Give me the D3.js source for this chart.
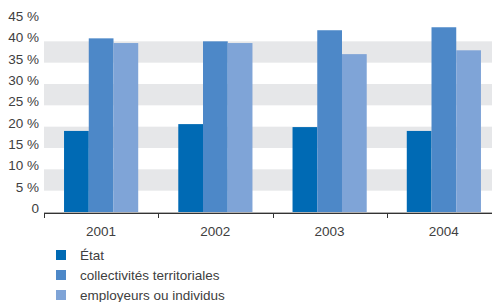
<!DOCTYPE html>
<html>
<head>
<meta charset="utf-8">
<script src="https://cdn.jsdelivr.net/npm/d3@7"></script>
<style>
  body { margin: 0; background: #fff; }
  svg text { font-family: "Liberation Sans Narrow", "Arial Narrow", "Liberation Sans", sans-serif; fill: #404040; }
</style>
</head>
<body>
<svg id="chart" width="492" height="302"></svg>
<script>
// Data
const years = ["2001", "2002", "2003", "2004"];
const seriesNames = ["État", "collectivités territoriales", "employeurs ou individus"];
const etat = [19.0, 20.6, 19.9, 19.0];
const collectivites = [40.7, 40.0, 42.6, 43.3];
const employeurs = [39.6, 39.6, 37.0, 37.9];
const yTicks = [0, 5, 10, 15, 20, 25, 30, 35, 40, 45];
const bands = [[5, 10], [15, 20], [25, 30], [35, 40]];

const colors = ["#006ab4", "#4d88c8", "#7fa4d7"];
const seriesValues = [etat, collectivites, employeurs];

const svg = d3.select("#chart");
const plotLeft = 44, plotRight = 501, plotTop = 20, plotBottom = 212;

const x = d3.scaleBand().domain(years).range([plotLeft, plotRight]).paddingInner(0).paddingOuter(0);
const x1 = d3.scaleBand().domain(d3.range(seriesNames.length)).range([0, x.bandwidth()])
  .paddingInner(0).paddingOuter(0.81);
const y = d3.scaleLinear().domain([0, 45]).range([plotBottom, plotTop]);

// Grey bands
svg.append("g").selectAll("rect")
  .data(bands)
  .join("rect")
  .attr("x", plotLeft)
  .attr("width", 492 - plotLeft)
  .attr("y", d => y(d[1]))
  .attr("height", d => y(d[0]) - y(d[1]))
  .attr("fill", "#e6e7e9");

// Y labels
svg.append("g").selectAll("text")
  .data(yTicks)
  .join("text")
  .attr("x", 39)
  .attr("y", d => y(d) + 1)
  .attr("text-anchor", "end")
  .style("font-size", "13.5px")
  .text(d => d === 0 ? "0" : d + " %");

// Bars
const groups = svg.append("g").selectAll("g")
  .data(years)
  .join("g")
  .attr("transform", d => `translate(${x(d)},0)`);

groups.selectAll("rect")
  .data((d, i) => seriesValues.map((s, k) => ({ k, v: s[i] })))
  .join("rect")
  .attr("x", d => x1(d.k))
  .attr("width", x1.bandwidth())
  .attr("y", d => y(d.v))
  .attr("height", d => y(0) - y(d.v))
  .attr("fill", d => colors[d.k]);

// Baseline
svg.append("line")
  .attr("x1", plotLeft).attr("x2", 492)
  .attr("y1", y(0) + 0.5).attr("y2", y(0) + 0.5)
  .attr("stroke", "#b0b0b0");

// X axis
const xAxis = svg.append("g")
  .attr("transform", `translate(0,${plotBottom + 1})`);
xAxis.append("line")
  .attr("x1", plotLeft).attr("x2", 492)
  .attr("y1", 0.5).attr("y2", 0.5)
  .attr("stroke", "#333");
xAxis.selectAll("line.tick")
  .data(years)
  .join("line")
  .attr("class", "tick")
  .attr("x1", d => Math.round(x(d)) + 0.5)
  .attr("x2", d => Math.round(x(d)) + 0.5)
  .attr("y1", 0).attr("y2", 5)
  .attr("stroke", "#333");
xAxis.selectAll("text")
  .data(years)
  .join("text")
  .attr("x", d => x(d) + x.bandwidth() / 2)
  .attr("y", 23)
  .attr("text-anchor", "middle")
  .style("font-size", "13.5px")
  .text(d => d);

// Legend
const legend = svg.append("g").selectAll("g")
  .data(seriesNames)
  .join("g")
  .attr("transform", (d, i) => `translate(56,${250 + i * 20})`);
legend.append("rect")
  .attr("width", 10).attr("height", 10)
  .attr("fill", (d, i) => colors[i]);
legend.append("text")
  .attr("x", 24)
  .attr("y", 9.5)
  .style("font-size", "13.5px")
  .text(d => d);
</script>
</body>
</html>
